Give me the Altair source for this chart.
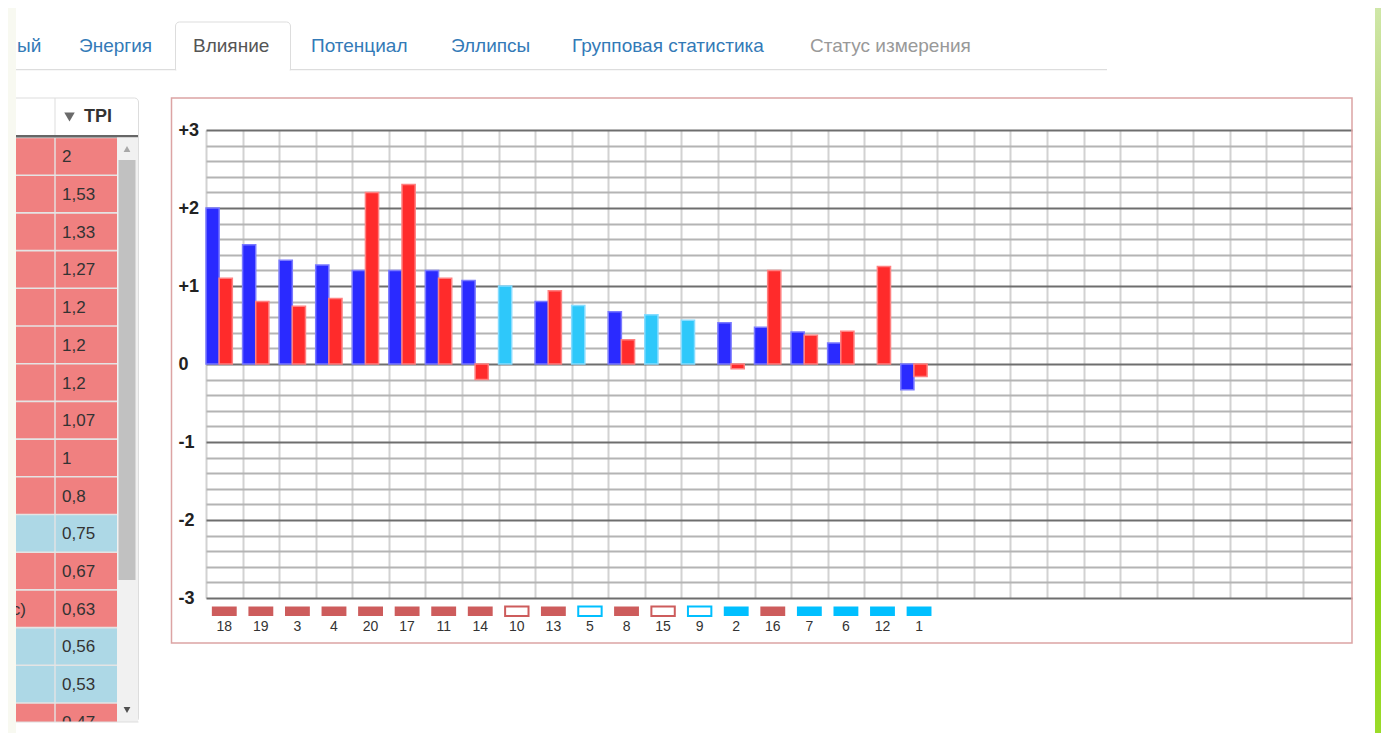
import altair as alt
import pandas as pd

# ---------------- data ----------------
CATEGORIES = ["18", "19", "3", "4", "20", "17", "11", "14", "10", "13",
              "5", "8", "15", "9", "2", "16", "7", "6", "12", "1"]
BLUE_VALUES = [2.0, 1.53, 1.33, 1.27, 1.2, 1.2, 1.2, 1.07, None, 0.8,
               None, 0.67, None, None, 0.53, 0.47, 0.41, 0.27, None, -0.33]
RED_VALUES = [1.1, 0.8, 0.74, 0.84, 2.2, 2.3, 1.1, -0.2, None, 0.94,
              None, 0.31, None, None, -0.06, 1.2, 0.37, 0.42, 1.25, -0.16]
CYAN_VALUES = [None, None, None, None, None, None, None, None, 1.0, None,
               0.75, None, 0.63, 0.56, None, None, None, None, None, None]
MARKER_GROUP = ["red", "red", "red", "red", "red", "red", "red", "red", "red", "red",
                "cyan", "red", "red", "cyan", "cyan", "red", "cyan", "cyan", "cyan", "cyan"]
MARKER_OUTLINE = [False, False, False, False, False, False, False, False, True, False,
                  True, False, True, True, False, False, False, False, False, False]

Y_LABEL_TICKS = [-3, -2, -1, 0, 1, 2, 3]
X_GRID_TICKS = list(range(31))
Y_GRID_TICKS = [round(-3 + 0.2 * i, 1) for i in range(31)]

TPI_VALUES = [2, 1.53, 1.33, 1.27, 1.2, 1.2, 1.2, 1.07, 1, 0.8, 0.75, 0.67, 0.63, 0.56, 0.53, 0.47]
TPI_GROUP = ["red", "red", "red", "red", "red", "red", "red", "red", "red", "red",
             "blue", "red", "red", "blue", "blue", "red"]

TAB_LABELS = ["ый", "Энергия", "Влияние", "Потенциал", "Эллипсы", "Групповая статистика", "Статус измерения"]
TAB_STATE = ["link", "link", "active", "link", "link", "link", "disabled"]

# ---------------- layout constants ----------------
PX0, PY0 = 206, 130           # page position of the plot origin
W, H = 1146, 468
X_DOMAIN = [0, 31.34]
FONT = "Liberation Sans"


def px(x):
    return x - PX0


def py(y):
    return y - PY0


ONE = pd.DataFrame({"k": [0]})


def box(x1, x2, y1, y2, **kw):
    return alt.Chart(ONE).mark_rect(**kw).encode(
        x=alt.value(px(x1)), x2=alt.value(px(x2)),
        y=alt.value(py(y1)), y2=alt.value(py(y2)))


def label(text, x, y, **kw):
    return alt.Chart(ONE).mark_text(text=text, font=FONT, baseline="middle", **kw).encode(
        x=alt.value(px(x)), y=alt.value(py(y)))


# ---------------- main chart data ----------------
rows = []
for i, c in enumerate(CATEGORIES):
    for series, vals in (("blue", BLUE_VALUES), ("red", RED_VALUES), ("cyan", CYAN_VALUES)):
        v = vals[i]
        if v is not None:
            rows.append({"idx": i, "cat": c, "series": series, "value": v})
bars_df = pd.DataFrame(rows)

markers_df = pd.DataFrame({
    "idx": list(range(len(CATEGORIES))),
    "cat": CATEGORIES,
    "group": MARKER_GROUP,
    "outline": MARKER_OUTLINE,
})

xscale = alt.Scale(domain=X_DOMAIN, nice=False, zero=False)
yscale = alt.Scale(domain=[-3, 3], nice=False)

x_axis = alt.Axis(values=X_GRID_TICKS, grid=True, gridColor="#d2d2d2", gridWidth=2,
                  labels=False, ticks=False, domain=False, title=None)
y_axis = alt.Axis(
    values=Y_GRID_TICKS, grid=True,
    gridColor=alt.condition("abs(datum.value - round(datum.value)) < 0.001",
                            alt.value("#6e6e6e"), alt.value("#b4b4b4")),
    gridWidth=2, domain=False, ticks=False, tickSize=0, title=None,
    labelExpr="abs(datum.value - round(datum.value)) < 0.001 ? (datum.value > 0 ? '+' + round(datum.value) : '' + round(datum.value)) : ''",
    labelAlign="left", labelBaseline="middle", labelPadding=28, labelOverlap=False, labelFlush=False,
    labelFont=FONT, labelFontSize=18, labelFontWeight="bold", labelColor="#222222")

bars = alt.Chart(bars_df).transform_calculate(
    x0="datum.idx + (datum.series == 'red' ? 0.36 : 0)",
    x1="datum.idx + (datum.series == 'red' ? 0.72 : 0.36)",
    zero="0",
).mark_rect(strokeWidth=1.5).encode(
    x=alt.X("x0:Q", scale=xscale, axis=x_axis),
    x2="x1:Q",
    y=alt.Y("value:Q", scale=yscale, axis=y_axis),
    y2="zero:Q",
    fill=alt.Fill("series:N", legend=None,
                  scale=alt.Scale(domain=["blue", "red", "cyan"],
                                  range=["#2a2aff", "#ff2b2b", "#2ec8fa"])),
    stroke=alt.Stroke("series:N", legend=None,
                      scale=alt.Scale(domain=["blue", "red", "cyan"],
                                      range=["#7a7aff", "#ff8080", "#86dcff"])),
)


def marker_layer(group, color):
    return alt.Chart(markers_df).transform_filter(
        f"datum.group == '{group}'"
    ).transform_calculate(
        m0="datum.idx + (datum.outline ? 0.18 : 0.16)",
        m1="datum.idx + (datum.outline ? 0.82 : 0.84)",
    ).mark_rect().encode(
        x=alt.X("m0:Q", scale=xscale, axis=x_axis),
        x2="m1:Q",
        y=alt.value(py(606.5)), y2=alt.value(py(616)),
        fill=alt.condition("datum.outline", alt.value("white"), alt.value(color)),
        stroke=alt.value(color),
        strokeWidth=alt.condition("datum.outline", alt.value(2), alt.value(0)),
    )


cat_labels = alt.Chart(markers_df).transform_calculate(
    xc="datum.idx + 0.5"
).mark_text(font=FONT, fontSize=14, color="#333333", baseline="middle").encode(
    x=alt.X("xc:Q", scale=xscale, axis=x_axis),
    y=alt.value(py(627)),
    text="cat:N",
)

# ---------------- table (left) ----------------
ROW_TOP, ROW_H = 137.5, 37.7
table_df = pd.DataFrame({"row": list(range(len(TPI_VALUES))), "tpi": TPI_VALUES, "group": TPI_GROUP})
tbl_base = alt.Chart(table_df).transform_calculate(
    ya=f"{py(ROW_TOP)} + {ROW_H} * datum.row + 0.8",
    yb=f"{py(ROW_TOP)} + {ROW_H} * (datum.row + 1) - 0.8",
    yc=f"{py(ROW_TOP)} + {ROW_H} * (datum.row + 0.5) + 1",
    txt="replace(toString(datum.tpi), '.', ',')",
)
cell_fill = alt.condition("datum.group == 'blue'", alt.value("#add8e6"), alt.value("#f08080"))
left_cells = tbl_base.mark_rect().encode(
    x=alt.value(px(16)), x2=alt.value(px(54.3)),
    y=alt.Y("ya:Q", scale=None), y2="yb:Q", fill=cell_fill)
right_cells = tbl_base.mark_rect().encode(
    x=alt.value(px(55.7)), x2=alt.value(px(117)),
    y=alt.Y("ya:Q", scale=None), y2="yb:Q", fill=cell_fill)
cell_text = tbl_base.mark_text(font=FONT, fontSize=17, color="#333333", align="left", baseline="middle").encode(
    x=alt.value(px(62)), y=alt.Y("yc:Q", scale=None), text="txt:N")

arrows = [
    alt.Chart(ONE).mark_point(shape="triangle-up", filled=True, size=45, color="#a8a8a8", opacity=1).encode(
        x=alt.value(px(127)), y=alt.value(py(149))),
    alt.Chart(ONE).mark_point(shape="triangle-down", filled=True, size=45, color="#505050", opacity=1).encode(
        x=alt.value(px(127)), y=alt.value(py(710))),
    alt.Chart(ONE).mark_point(shape="triangle-down", filled=True, size=110, color="#6a6a6a", opacity=1).encode(
        x=alt.value(px(69.5)), y=alt.value(py(117))),
]

# ---------------- tabs ----------------
TAB_X = [17, 79, 193, 311, 451, 572, 810]
tab_colors = {"link": "#337ab7", "active": "#555555", "disabled": "#999999"}
tabs = [label(t, x, 46, fontSize=19, align="left", color=tab_colors[s])
        for t, x, s in zip(TAB_LABELS, TAB_X, TAB_STATE)]

green = alt.Gradient(gradient="linear", x1=0, x2=0, y1=0, y2=1, stops=[
    alt.GradientStop(color="#cfe7a8", offset=0),
    alt.GradientStop(color="#a7c84a", offset=0.35),
    alt.GradientStop(color="#8fd41a", offset=0.8),
    alt.GradientStop(color="#9bdc2a", offset=1)])

layers = [
    # page chrome
    box(1375, 1381, 8, 741, fill=green),
    box(16, 1107, 69, 70.2, fill="#dddddd"),
    box(175.5, 290.5, 22, 70, fill="white", stroke="#dddddd", strokeWidth=1,
        cornerRadiusTopLeft=4, cornerRadiusTopRight=4),
    box(176.3, 289.7, 68.5, 71, fill="white"),
] + tabs + [
    # table
    box(10, 138.5, 98, 722, fill="white", stroke="#dddddd", strokeWidth=1, cornerRadius=4),
    box(16, 117, 137, 722, fill="#e4e4e4"),
    left_cells, right_cells, cell_text,
    label("с)", 26, ROW_TOP + ROW_H * 12.5 + 1, fontSize=17, align="right", color="#333333"),
    box(54.5, 55.5, 98, 136, fill="#dddddd"),
    box(16, 138, 135, 137.5, fill="#666666"),
    label("TPI", 84, 117, fontSize=18, fontWeight="bold", align="left", color="#333333"),
    box(117, 138, 137.5, 722, fill="#f1f1f1"),
    box(118.5, 135.5, 160, 580, fill="#c1c1c1"),
    box(16, 140, 722, 741, fill="white"),
    box(16, 138.5, 721.5, 722.5, fill="#dddddd"),
] + arrows + [
    box(8, 16, 8, 741, fill="#f8f9f1"),
    # chart container (outline only, so the axis grid stays visible)
    box(171.5, 1352, 98, 643, fillOpacity=0, stroke="#dca4a4", strokeWidth=1.5),
    bars,
    marker_layer("red", "#cd5c5c"),
    marker_layer("cyan", "#00bfff"),
    cat_labels,
]

chart = alt.layer(*layers).properties(
    width=W, height=H,
    autosize=alt.AutoSizeParams(type="none"),
    padding={"left": PX0 - 8, "top": PY0 - 8, "right": 1373 - (PX0 - 8) - W, "bottom": 725 - (PY0 - 8) - H},
    background="white",
).configure_view(strokeWidth=0)

chart.save("out.html", embed_options={"renderer": "svg", "actions": False})
